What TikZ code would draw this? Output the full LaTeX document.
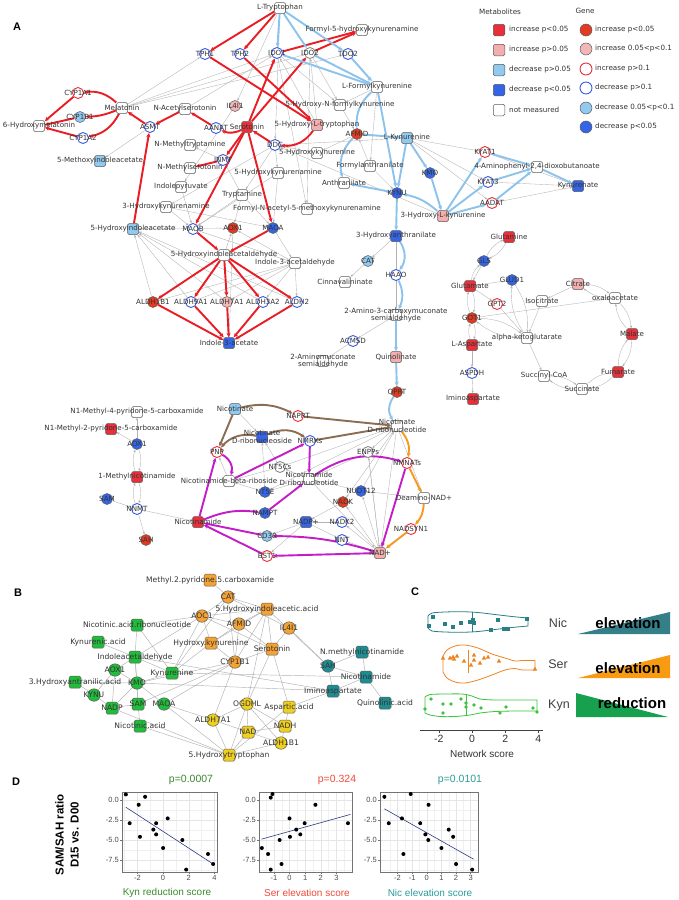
\documentclass[tikz,border=0pt]{standalone}
\usepackage{fontspec}
\setmainfont{DejaVu Sans}
\newfontfamily\lsans{Liberation Sans}
\usetikzlibrary{arrows.meta}
\pgfdeclarelayer{bg}
\pgfsetlayers{bg,main}
\definecolor{txt}{HTML}{333333}
\definecolor{bord}{HTML}{5A5A5A}
\definecolor{mRed}{HTML}{E8303A}
\definecolor{mPink}{HTML}{F3AFAF}
\definecolor{mLBlue}{HTML}{92C9EE}
\definecolor{mBlue}{HTML}{3565E6}
\definecolor{gRed}{HTML}{E23B22}
\definecolor{gPink}{HTML}{F2B6B6}
\definecolor{oRed}{HTML}{E8303A}
\definecolor{oBlue}{HTML}{3A5BE0}
\definecolor{eGray}{HTML}{B2B2B2}
\definecolor{eRed}{HTML}{EA1C24}
\definecolor{eBlue}{HTML}{8CC3EC}
\definecolor{eBrown}{HTML}{8C6D52}
\definecolor{eOrange}{HTML}{F59A1E}
\definecolor{eMag}{HTML}{C41DC8}
\definecolor{bGreen}{HTML}{22BC3C}
\definecolor{bOrange}{HTML}{F4A234}
\definecolor{bYellow}{HTML}{F0D01E}
\definecolor{bTeal}{HTML}{1E8C90}
\definecolor{cTeal}{HTML}{2A7E86}
\definecolor{cOrange}{HTML}{EE8420}
\definecolor{cGreen}{HTML}{3CC43C}
\definecolor{tTeal}{HTML}{357F88}
\definecolor{tOrange}{HTML}{F89B12}
\definecolor{tGreen}{HTML}{17A04E}
\definecolor{dGreen}{HTML}{3B8A2E}
\definecolor{dRed}{HTML}{F04A3A}
\definecolor{dTeal}{HTML}{2C9C9A}
\definecolor{dLine}{HTML}{2B3A80}
\tikzset{
 lab/.style={inner sep=0pt,text=txt,align=center,font=\fontsize{7.1}{7.9}\selectfont},
 mbox/.style={rectangle,rounded corners=1.6pt,draw=bord,line width=0.5pt,fill=white,minimum size=11pt,inner sep=0pt},
 gcirc/.style={circle,draw=bord,line width=0.5pt,fill=white,minimum size=11pt,inner sep=0pt},
 fR/.style={fill=mRed}, fP/.style={fill=mPink}, fL/.style={fill=mLBlue}, fB/.style={fill=mBlue},
 cR/.style={fill=gRed}, cP/.style={fill=gPink}, cL/.style={fill=mLBlue}, cB/.style={fill=mBlue},
 oR/.style={draw=oRed,line width=0.9pt}, oB/.style={draw=oBlue,line width=0.9pt}, oG/.style={draw=gray,line width=0.8pt},
 grayE/.style={draw=eGray,line width=0.35pt,-{Stealth[length=2.8pt,width=2.2pt]}},
 thickE/.style={line width=1.9pt,-{Stealth[length=4.4pt,width=4pt]}},
 redE/.style={thickE,draw=eRed},
 bluE/.style={thickE,draw=eBlue},
 brnE/.style={thickE,draw=eBrown},
 orgE/.style={thickE,draw=eOrange},
 magE/.style={thickE,draw=eMag},
 blab/.style={inner sep=0pt,text=txt,font=\fontsize{7.6}{8}\selectfont},
 bbox/.style={rectangle,rounded corners=1.6pt,draw=bord,line width=0.5pt,minimum size=12pt,inner sep=0pt},
 bcirc/.style={circle,draw=bord,line width=0.5pt,minimum size=12.5pt,inner sep=0pt},
 bE/.style={draw=eGray,line width=0.45pt},
 legt/.style={inner sep=0pt,text=txt,anchor=west,font=\fontsize{7.2}{8}\selectfont},
 panl/.style={inner sep=0pt,font=\lsans\bfseries\fontsize{11}{12}\selectfont},
 ctk/.style={inner sep=0pt,text=txt,font=\lsans\fontsize{11}{12}\selectfont},
 dtk/.style={inner sep=0pt,text=black!70,font=\lsans\fontsize{7.5}{8}\selectfont},
 dgmaj/.style={draw=black!10,line width=0.45pt},
 dgmin/.style={draw=black!6,line width=0.3pt},
 dbox/.style={draw=black!55,line width=0.5pt},
}
\newcommand{\MM}[5]{\node[mbox,#4] (#1) at (#2,#3) {}; \node[lab] (#1-t) at (#2,#3) {#5};}
\newcommand{\GG}[5]{\node[gcirc,#4] (#1) at (#2,#3) {}; \node[lab] (#1-t) at (#2,#3) {#5};}
\newcommand{\BM}[5]{\node[bbox,fill=#4] (#1) at (#2,#3) {}; \node[blab] (#1-t) at (#2,#3) {#5};}
\newcommand{\BG}[5]{\node[bcirc,fill=#4] (#1) at (#2,#3) {}; \node[blab] (#1-t) at (#2,#3) {#5};}
\begin{document}
\begin{tikzpicture}[x=1pt,y=-1pt]
\begin{pgfonlayer}{bg}
\fill[white] (0,0) rectangle (678,900);
\end{pgfonlayer}
\useasboundingbox (0,0) rectangle (678,900);
% ---------------- panel labels
\node[panl] (pA) at (17,27) {A};
\node[panl] (pB) at (18,593) {B};
\node[panl] (pC) at (415,592) {C};
\node[panl] (pD) at (16,782) {D};
% ---------------- A metabolites
\MM{trp}{280}{8}{}{L-Tryptophan}
\MM{fhk}{362}{30}{}{Formyl-5-hydroxykynurenamine}
\MM{lfk}{377}{87}{}{L-Formylkynurenine}
\MM{hnfk}{340}{105}{}{5-Hydroxy-N-formylkynurenine}
\MM{htp}{317}{125}{fP}{5-Hydroxy-L-tryptophan}
\MM{ser}{247}{127}{fR}{Serotonin}
\MM{mel}{122}{108}{}{Melatonin}
\MM{nas}{185}{109}{}{N-Acetylserotonin}
\MM{hmel}{39}{126}{}{6-Hydroxymelatonin}
\MM{mia}{100}{161}{fL}{5-Methoxyindoleacetate}
\MM{nmt}{190}{145}{}{N-Methyltryptamine}
\MM{nms}{190}{168}{}{N-Methylserotonin}
\MM{ipy}{181}{187}{}{Indolepyruvate}
\MM{hkna}{166}{207}{}{3-Hydroxykynurenamine}
\MM{lkyn}{407}{138}{fL}{L-Kynurenine}
\MM{hk}{317}{153}{}{5-Hydroxykynurenine}
\MM{fant}{370}{166}{}{Formylanthranilate}
\MM{ant}{344}{183}{}{Anthranilate}
\MM{hkn}{278}{173}{}{5-Hydroxykynurenamine}
\MM{trya}{242}{195}{}{Tryptamine}
\MM{fnak}{307}{209}{}{Formyl-N-acetyl-5-methoxykynurenamine}
\MM{hlk}{443}{216}{fP}{3-Hydroxy-L-kynurenine}
\MM{apd}{537}{167}{}{4-Aminophenyl-2,4-dioxobutanoate}
\MM{kyna}{578}{186}{fB}{Kynurenate}
\MM{hiaa}{133}{229}{fL}{5-Hydroxyindoleacetate}
\MM{hial}{224}{255}{}{5-Hydroxyindoleacetaldehyde}
\MM{ial}{295}{263}{}{Indole-3-acetaldehyde}
\MM{iaa}{229}{343}{fB}{Indole-3-acetate}
\MM{haa}{396}{236}{fB}{3-Hydroxyanthranilate}
\MM{cinn}{345}{282}{}{Cinnavalininate}
\MM{acms}{396}{315}{}{2-Amino-3-carboxymuconate\\semialdehyde}
\MM{ams}{323}{361}{}{2-Aminomuconate\\semialdehyde}
\MM{quin}{396}{357}{fP}{Quinolinate}
\MM{gln}{509}{237}{fR}{Glutamine}
\MM{glu}{470}{286}{fR}{Glutamate}
\MM{cit}{578}{284}{fP}{Citrate}
\MM{icit}{542}{301}{}{Isocitrate}
\MM{oaa}{615}{298}{}{oxaloacetate}
\MM{akg}{527}{338}{}{alpha-ketoglutarate}
\MM{mal}{632}{334}{fR}{Malate}
\MM{asp}{472}{345}{fR}{L-Aspartate}
\MM{scoa}{544}{376}{}{Succinyl-CoA}
\MM{fum}{618}{372}{fR}{Fumarate}
\MM{suc}{582}{389}{}{Succinate}
\MM{imas}{473}{399}{fR}{Iminoaspartate}
\MM{nmpf}{137}{412}{}{N1-Methyl-4-pyridone-5-carboxamide}
\MM{nmpt}{111}{429}{fR}{N1-Methyl-2-pyridone-5-carboxamide}
\MM{mna}{137}{477}{fR}{1-Methylnicotinamide}
\MM{na}{235}{409}{fL}{Nicotinate}
\MM{namn}{397}{426}{}{Nicotinate\\D-ribonucleotide}
\MM{nar}{262}{437}{fB}{Nicotinate\\D-ribonucleoside}
\MM{nr}{229}{481}{}{Nicotinamide-beta-riboside}
\MM{nmn}{309}{479}{}{Nicotinamide\\D-ribonucleotide}
\MM{nam}{198}{522}{fR}{Nicotinamide}
\MM{dnad}{424}{498}{}{Deamino-NAD+}
\MM{nadp}{306}{522}{fB}{NADP+}
\MM{nad}{380}{553}{fP}{NAD+}
% ---------------- A genes
\GG{tphA}{205}{54}{oB}{TPH1}
\GG{tphB}{240}{54}{oB}{TPH2}
\GG{idoA}{277}{53}{oB}{IDO1}
\GG{idoB}{310}{53}{oG}{IDO2}
\GG{tdo}{348}{54}{oB}{TDO2}
\GG{cypA}{78}{93}{oR}{CYP1A1}
\GG{cypB}{80}{117}{cL}{CYP1B1}
\GG{cypC}{83}{138}{oB}{CYP1A2}
\GG{asmt}{150}{127}{oB}{ASMT}
\GG{aanat}{216}{128}{oB}{AANAT}
\GG{ilf}{235}{106}{cP}{IL4I1}
\GG{inmt}{223}{160}{oB}{INMT}
\GG{afmid}{357}{134}{cR}{AFMID}
\GG{ddc}{275}{145}{oB}{DDC}
\GG{kmo}{430}{173}{cB}{KMO}
\GG{kynu}{397}{193}{cB}{KYNU}
\GG{kyatA}{485}{152}{oR}{KYAT1}
\GG{kyatB}{488}{182}{oB}{KYAT3}
\GG{aadat}{492}{203}{oR}{AADAT}
\GG{maob}{193}{229}{oB}{MAOB}
\GG{aoxA}{233}{228}{cR}{AOX1}
\GG{maoa}{273}{228}{cB}{MAOA}
\GG{alA}{153}{302}{cR}{ALDH1B1}
\GG{alB}{191}{302}{oB}{ALDH9A1}
\GG{alC}{227}{302}{cP}{ALDH7A1}
\GG{alD}{263}{302}{oB}{ALDH3A2}
\GG{alE}{297}{302}{oB}{ALDH2}
\GG{cat}{368}{261}{cL}{CAT}
\GG{haao}{396}{275}{oB}{HAAO}
\GG{acmsd}{353}{341}{oB}{ACMSD}
\GG{qprt}{397}{392}{cR}{QPRT}
\GG{gls}{484}{261}{cB}{GLS}
\GG{glud}{512}{280}{cB}{GLUD1}
\GG{gpt}{497}{304}{oR}{GPT2}
\GG{got}{472}{318}{cR}{GOT1}
\GG{aspdh}{472}{373}{oB}{ASPDH}
\GG{aoxB}{137}{444}{cB}{AOX1}
\GG{sam}{107}{499}{cB}{SAM}
\GG{nnmt}{137}{509}{oB}{NNMT}
\GG{sah}{146}{540}{cR}{SAH}
\GG{pnp}{217}{452}{oR}{PNP}
\GG{naprt}{298}{416}{oR}{NAPRT}
\GG{nmrk}{310}{441}{oB}{NMRKs}
\GG{enpp}{368}{452}{oG}{ENPPs}
\GG{ntc}{280}{467}{oG}{NT5Cs}
\GG{nmnat}{407}{463}{oR}{NMNATs}
\GG{nte}{265}{492}{cB}{NT5E}
\GG{nudt}{361}{491}{cB}{NUDT12}
\GG{nampt}{265}{513}{cB}{NAMPT}
\GG{nadk}{343}{502}{cR}{NADK}
\GG{nadkB}{342}{522}{oB}{NADK2}
\GG{nadsyn}{411}{529}{oR}{NADSYN1}
\GG{cd}{267}{536}{cL}{CD38}
\GG{nnt}{342}{540}{oB}{NNT}
\GG{bst}{267}{556}{oR}{BST1}
% ---------------- A edges
\begin{pgfonlayer}{bg}
\foreach \a/\b in {trp/ilf, ilf/ipy, trp/ddc, ddc/trya, htp/idoA, htp/idoB, idoA/hnfk, idoB/hnfk, hnfk/afmid, afmid/hk, hk/ddc, ddc/hkn,
 mel/idoA, mel/idoB, mel/tdo, mel/tphA, nas/idoA, idoA/fnak, idoB/fnak, asmt/mia, trya/inmt, inmt/nmt, trya/maob, trya/maoa, maob/ial, maoa/ial,
 ial/alA, ial/alB, ial/alC, ial/alD, ial/alE, ial/aoxA, aoxA/iaa, hial/aoxA, aoxA/hiaa, alA/hiaa, alB/hiaa, alC/hiaa, alD/hiaa, alE/hiaa,
 hlk/ddc, ddc/hkna, lkyn/ddc, hkna/maob, hkna/maoa, hkn/maob, hkn/maoa, trya/aoxA, ipy/maob,
 lkyn/kyatA, lkyn/kyatB, lkyn/aadat, kyatA/kyna, kyatB/kyna, aadat/kyna, fant/afmid, lfk/fant, fant/kynu, haa/cat, cat/cinn, acms/acmsd, acmsd/ams,
 haa/acms, lfk/hnfk, kmo/lkyn,
 glu/gpt, gpt/akg, got/oaa, asp/aspdh, aspdh/imas, cit/icit, icit/akg, akg/scoa, glud/glu, gls/glu,
 aoxB/nmpt, aoxB/nmpf, nam/nnmt, sam/nnmt, nnmt/sah,
 namn/enpp, nad/enpp, enpp/nmn, namn/ntc, ntc/nar, nmn/ntc, ntc/nr, namn/nte, nte/nar, nmn/nte, nte/nr, nad/nudt, nudt/nmn, dnad/nudt, nudt/namn,
 nad/nadk, nadk/nadp, nad/nadkB, nadkB/nadp, nadp/nnt, nnt/nad, nadp/cd, nadp/bst, namn/dnad, nr/pnp, na/nar, namn/nad, namn/nadk, enpp/nad, nmn/nad}
 \draw[grayE] (\a) -- (\b);
\foreach \a/\b in {gln/gls, gls/gln, glu/got, got/glu, got/asp, asp/got, fum/mal, mal/fum, mal/oaa, oaa/mal, suc/fum, fum/suc, scoa/suc, suc/scoa,
 akg/glud, glud/akg, akg/got, got/akg, cit/oaa, oaa/cit, mna/aoxB, aoxB/mna, nnmt/mna, mna/nnmt, glu/gls}
 \draw[grayE] (\a) to[bend left=18] (\b);
% red
\foreach \a/\b in {trp/tphA, trp/tphB, tphA/htp, tphB/htp, ddc/ser, aanat/nas, nas/asmt, asmt/mel, cypA/hmel, cypB/hmel, cypC/hmel,
 ser/inmt, inmt/nms, ser/idoA, ser/idoB, idoA/fhk, idoB/fhk, ser/maob, ser/maoa, maob/hial, maoa/hial,
 hial/alA, hial/alB, hial/alC, hial/alD, hial/alE, alA/iaa, alB/iaa, alC/iaa, alD/iaa, alE/iaa, hiaa/asmt}
 \draw[redE] (\a) -- (\b);
\draw[redE] (htp) to[bend left=30] (ddc);
\draw[redE] (ser) to[bend left=25] (aanat);
\draw[redE] (mel) to[bend right=25] (cypA);
\draw[redE] (mel) to[bend left=10] (cypB);
\draw[redE] (mel) to[bend left=25] (cypC);
% blue
\foreach \a/\b in {trp/idoA, trp/idoB, trp/tdo, idoA/lfk, idoB/lfk, tdo/lfk, afmid/lkyn, lfk/kynu, lkyn/kmo, kmo/hlk, lkyn/kynu, kynu/ant,
 kynu/haa, hlk/kyatA, hlk/kyatB, hlk/aadat, kyatA/apd, kyatB/apd, aadat/apd, apd/kyna, acms/quin, quin/qprt}
 \draw[bluE] (\a) -- (\b);
\draw[bluE] (lfk) to[bend right=25] (afmid);
\draw[bluE] (afmid) to[bend right=30] (ant);
\draw[bluE] (hlk) to[bend right=15] (kynu);
\draw[bluE] (haa) to[bend left=35] (haao);
\draw[bluE] (haao) to[bend left=25] (acms);
\draw[bluE] (qprt) to[bend right=35] (namn);
% brown
\draw[brnE] (na) to[bend left=20] (naprt);
\draw[brnE] (naprt) -- (namn);
\draw[brnE] (na) -- (pnp);
\draw[brnE] (nar) to[bend right=30] (pnp);
\draw[brnE] (nar) to[bend left=30] (nmrk);
\draw[brnE] (nmrk) -- (namn);
% orange
\draw[orgE] (namn) to[bend left=25] (nmnat);
\draw[orgE] (nmnat) -- (dnad);
\draw[orgE] (dnad) to[bend left=20] (nadsyn);
\draw[orgE] (nadsyn) -- (nad);
% magenta
\draw[magE] (nam) -- (pnp);
\draw[magE] (pnp) to[bend left=40] (nr);
\draw[magE] (nr) -- (nmrk);
\draw[magE] (nmrk) -- (nmn);
\draw[magE] (nam) to[bend left=15] (nampt);
\draw[magE] (nampt) -- (nmn);
\draw[magE] (nmn) to[bend left=25] (nmnat);
\draw[magE] (nmnat) -- (nad);
\draw[magE] (nad) -- (bst);
\draw[magE] (nad) to[bend right=8] (cd);
\draw[magE] (bst) -- (nam);
\draw[magE] (cd) -- (nam);
\end{pgfonlayer}
% ---------------- legend
\node[inner sep=0pt,text=txt,font=\fontsize{7.2}{8}\selectfont] (legM) at (500,12) {Metabolites};
\node[inner sep=0pt,text=txt,font=\fontsize{7.2}{8}\selectfont] (legG) at (585,11) {Gene};
\foreach \s/\t/\yy [count=\i] in {fR/increase p<0.05/30, fP/increase p>0.05/50, fL/decrease p>0.05/70, fB/decrease p<0.05/90, {}/not measured/110}{
 \node[mbox,\s,minimum size=11.5pt] (lm\i) at (499,\yy) {};
 \node[legt] (lm\i-t) at (509,\yy) {\t};}
\foreach \s/\t/\yy [count=\i] in {cR/increase p<0.05/30, cP/increase 0.05<p<0.1/49, oR/increase p>0.1/69, oB/decrease p>0.1/88, cL/decrease 0.05<p<0.1/108, cB/decrease p<0.05/127}{
 \node[gcirc,\s,minimum size=12pt] (lg\i) at (586,\yy) {};
 \node[legt] (lg\i-t) at (595,\yy) {\t};}
% ---------------- panel B
\BM{bA}{210}{580}{bOrange}{Methyl.2.pyridone.5.carboxamide}
\BG{bB}{228}{597}{bOrange}{CAT}
\BG{bC}{202}{616}{bOrange}{AOC1}
\BM{bD}{267}{609}{bOrange}{5.Hydroxyindoleacetic.acid}
\BG{bE}{239}{624}{bOrange}{AFMID}
\BG{bF}{289}{628}{bOrange}{IL4I1}
\BM{bG}{137}{625}{bGreen}{Nicotinic.acid.ribonucleotide}
\BM{bH}{98}{642}{bGreen}{Kynurenic.acid}
\BM{bI}{211}{643}{bOrange}{Hydroxy.kynurenine}
\BM{bJ}{272}{649}{bOrange}{Serotonin}
\BM{bK}{135}{657}{bGreen}{Indoleacetaldehyde}
\BG{bL}{235}{662}{bOrange}{CYP1B1}
\BG{bM}{115}{670}{bGreen}{AOX1}
\BM{bN}{172}{673}{bGreen}{Kynurenine}
\BM{bO}{362}{652}{bTeal}{N.methylnicotinamide}
\BG{bP}{328}{666}{bTeal}{SAH}
\BM{bQ}{366}{677}{bTeal}{Nicotinamide}
\BM{bR}{333}{691}{bTeal}{Iminoaspartate}
\BM{bS}{385}{703}{bTeal}{Quinolinic.acid}
\BM{bT}{75}{682}{bGreen}{3.Hydroxyantranilic.acid}
\BG{bU}{137}{683}{bGreen}{KMO}
\BG{bV}{94}{695}{bGreen}{KYNU}
\BM{bW}{138}{704}{bGreen}{SAM}
\BG{bX}{164}{704}{bGreen}{MAOA}
\BM{bY}{112}{708}{bGreen}{NADP}
\BM{bZ}{140}{726}{bGreen}{Nicotinic.acid}
\BG{ba}{247}{704}{bYellow}{OGDHL}
\BM{bb}{289}{707}{bYellow}{Aspartic.acid}
\BG{bc}{213}{720}{bYellow}{ALDH7A1}
\BM{bd}{285}{726}{bYellow}{NADH}
\BM{be}{248}{732}{bYellow}{NAD}
\BG{bf}{281}{743}{bYellow}{ALDH1B1}
\BM{bg}{229}{755}{bYellow}{5.Hydroxytryptophan}
\begin{pgfonlayer}{bg}
\foreach \a/\b in {bA/bB, bB/bC, bB/bD, bB/bF, bB/bN, bB/bL, bC/bG, bC/bI, bC/bK, bC/bN, bC/bE, bC/bJ, bC/bD, bD/bI, bD/bL, bD/bE, bD/bJ, bD/ba, bD/bP,
 bE/bL, bE/bJ, bE/bI, bF/bJ, bF/bP, bI/bN, bI/bL, bJ/bL, bJ/bb, bJ/ba, bL/bc, bL/bW, bL/bX, bL/bU, bK/bG, bK/bH, bK/bM, bK/bU, bK/bN, bK/bW, bK/bR,
 bM/bU, bM/bY, bM/bV, bT/bU, bT/bV, bU/bN, bU/bW, bU/bY, bU/bX, bU/bR, bN/bQ, bV/bY, bW/bY, bW/bZ, bX/bc, bX/bg, bY/bg, bZ/bg,
 ba/bc, ba/be, ba/bd, ba/bf, ba/bg, bb/bd, bb/bg, bc/be, bc/bg, bd/be, bd/bf, be/bf, be/bg, bf/bg, bP/bO, bP/bQ, bP/bR, bQ/bR, bQ/bS, bQ/bO, bR/bb, bG/bN}
 \draw[bE] (\a) -- (\b);
\end{pgfonlayer}
% ---------------- panel C
\draw[cTeal,line width=0.8pt] plot[smooth] coordinates {(428,616) (432,613) (445,612) (462,611.7) (478,612.5) (495,614.5) (512,616.5) (528,618)}
 -- plot[smooth] coordinates {(528,626) (512,627.5) (495,629.5) (478,631.5) (462,632.3) (445,632) (432,631) (428,628)} -- cycle;
\draw[cTeal,line width=0.8pt] (472,611.8) -- (472,632.2);
\foreach \x/\y in {433/617,429/626,445/624,453/627,461/623,470/622,473/620,474/623,491/630,498/620,504/629,508/629,527/619}
 \fill[cTeal] (\x-1.8,\y-1.8) rectangle (\x+1.8,\y+1.8);
\draw[cOrange,line width=0.8pt] plot[smooth] coordinates {(443,656) (447,650) (455,646) (465,645) (478,648) (492,654) (505,658) (515,661) (522,660.5) (535,660.5)}
 -- plot[smooth] coordinates {(535,670) (522,670) (515,668.5) (505,670) (492,675) (478,680) (465,683) (455,682) (447,678) (443,672)} -- cycle;
\draw[cOrange,line width=0.8pt] (468,650) -- (468,673);
\foreach \x/\y in {443/658,450/658,453/657,454/659,457/656,464/661,471/665,474/655,474/660,480/663,484/658,488/657,499/661,535/669}
 \fill[cOrange] (\x,\y-2.4) -- (\x+2.2,\y+1.5) -- (\x-2.2,\y+1.5) -- cycle;
\draw[cGreen,line width=0.8pt] plot[smooth] coordinates {(425,697) (430,694.5) (445,694) (462,694) (472,696) (480,699) (495,700) (515,700) (537,700)}
 -- plot[smooth] coordinates {(537,711) (515,711) (495,711.5) (480,713) (470,715) (455,716.5) (440,716.5) (430,715) (425,713)} -- cycle;
\draw[cGreen,line width=0.8pt] (466,694) -- (466,716);
\foreach \x/\y in {425/709,431/699,443/704,443/713,451/704,461/699,466/703,466/707,474/705,481/708,500/713,506/707,533/708,537/712}
 \fill[cGreen] (\x,\y) circle (1.9pt);
\draw[black!75,line width=0.6pt] (420,730) -- (543,730);
\foreach \v/\t [count=\i] in {-2/-2,0/0,2/2,4/4}{
 \draw[black!75,line width=0.6pt] (472+16.6*\v,730) -- (472+16.6*\v,733);
 \node[ctk,anchor=north,font=\lsans\fontsize{10.5}{11}\selectfont] (cx\i) at (472+16.6*\v,735) {\t};}
\node[ctk,font=\lsans\fontsize{10}{11}\selectfont] (cxl) at (482,754) {Network score};
\node[ctk,font=\lsans\fontsize{12.5}{13}\selectfont,text=black!75] (cnic) at (558,623) {Nic};
\node[ctk,font=\lsans\fontsize{12.5}{13}\selectfont,text=black!75] (cser) at (558,664) {Ser};
\node[ctk,font=\lsans\fontsize{12.5}{13}\selectfont,text=black!75] (ckyn) at (559,705) {Kyn};
\fill[tTeal] (578,634) -- (670,612) -- (670,634) -- cycle;
\fill[tOrange] (578,678) -- (670,655) -- (670,678) -- cycle;
\fill[tGreen] (576,693) -- (576,717) -- (668,717) -- cycle;
\node[inner sep=0pt,font=\lsans\bfseries\fontsize{15}{16}\selectfont] (tnic) at (628,623) {elevation};
\node[inner sep=0pt,font=\lsans\bfseries\fontsize{15}{16}\selectfont] (tser) at (628,668) {elevation};
\node[inner sep=0pt,font=\lsans\bfseries\fontsize{15}{16}\selectfont] (tkyn) at (632,703) {reduction};
% ---------------- panel D
\node[rotate=90,align=center,inner sep=0pt,font=\lsans\bfseries\fontsize{11.5}{15}\selectfont] (dyl) at (67,835) {SAM/SAH ratio\\D15 vs. D00};
\node[inner sep=0pt,text=dGreen,font=\lsans\fontsize{10.5}{11}\selectfont] (dp1) at (191,780) {p=0.0007};
\node[inner sep=0pt,text=dRed,font=\lsans\fontsize{10.5}{11}\selectfont] (dp2) at (337,780) {p=0.324};
\node[inner sep=0pt,text=dTeal,font=\lsans\fontsize{10.5}{11}\selectfont] (dp3) at (460,780) {p=0.0101};
\node[inner sep=0pt,text=dGreen,font=\lsans\fontsize{10}{11}\selectfont] (dx1) at (167,893) {Kyn reduction score};
\node[inner sep=0pt,text=dRed,font=\lsans\fontsize{10}{11}\selectfont] (dx2) at (307,893) {Ser elevation score};
\node[inner sep=0pt,text=dTeal,font=\lsans\fontsize{10}{11}\selectfont] (dx3) at (430,893) {Nic elevation score};
% plot 1
\begin{scope}[shift={(163.08,800)},x=12.838pt,y=8pt]
 \foreach \g in {-8.75,-6.25,-3.75,-1.25} \draw[dgmin] (-3.2,\g) -- (4.2,\g);
 \foreach \g in {-3,-1,1,3} \draw[dgmin] (\g,-9) -- (\g,1);
 \foreach \g in {-7.5,-5,-2.5,0} \draw[dgmaj] (-3.2,\g) -- (4.2,\g);
 \foreach \g in {-2,0,2,4} \draw[dgmaj] (\g,-9) -- (\g,1);
 \draw[dbox] (-3.2,-9) rectangle (4.2,1);
 \foreach \g/\t [count=\i] in {0/0.0,-2.5/-2.5,-5/-5.0,-7.5/-7.5}{
  \draw[black!55,line width=0.4pt] (-3.2,\g) -- ++(-2pt,0);
  \node[dtk,anchor=east] (d1y\i) at ([xshift=-3pt]-3.2,\g) {\t};}
 \foreach \g [count=\i] in {-2,0,2,4}{
  \draw[black!55,line width=0.4pt] (\g,-9) -- ++(0,-2pt);
  \node[dtk,anchor=north] (d1x\i) at ([yshift=-3pt]\g,-9) {\g};}
 \draw[dLine,line width=0.6pt] (-2.9,-0.9) -- (3.9,-8.0);
 \foreach \x/\y in {-2.9/0.7,-2.6/-2.9,-1.9/-0.6,-1.4/0.4,-1.8/-4.6,-0.76/-3.7,-0.54/-2.9,-0.54/-4.3,0.0/-6.0,0.36/-2.3,1.5/-5.0,1.8/-8.7,3.5/-6.75,3.9/-8.0}
  \fill[black] (\x,\y) circle (2pt);
\end{scope}
% plot 2
\begin{scope}[shift={(289.5,800)},x=15.63pt,y=8pt]
 \foreach \g in {-8.75,-6.25,-3.75,-1.25} \draw[dgmin] (-1.95,\g) -- (4.0,\g);
 \foreach \g in {-1.5,-0.5,0.5,1.5,2.5,3.5} \draw[dgmin] (\g,-9) -- (\g,1);
 \foreach \g in {-7.5,-5,-2.5,0} \draw[dgmaj] (-1.95,\g) -- (4.0,\g);
 \foreach \g in {-1,0,1,2,3} \draw[dgmaj] (\g,-9) -- (\g,1);
 \draw[dbox] (-1.95,-9) rectangle (4.0,1);
 \foreach \g/\t [count=\i] in {0/0.0,-2.5/-2.5,-5/-5.0,-7.5/-7.5}{
  \draw[black!55,line width=0.4pt] (-1.95,\g) -- ++(-2pt,0);
  \node[dtk,anchor=east] (d2y\i) at ([xshift=-3pt]-1.95,\g) {\t};}
 \foreach \g [count=\i] in {-1,0,1,2,3}{
  \draw[black!55,line width=0.4pt] (\g,-9) -- ++(0,-2pt);
  \node[dtk,anchor=north] (d2x\i) at ([yshift=-3pt]\g,-9) {\g};}
 \draw[dLine,line width=0.6pt] (-1.8,-4.9) -- (3.9,-1.8);
 \foreach \x/\y in {-1.77/-6.0,-1.37/-6.75,-1.2/0.3,-1.09/0.75,-1.2/-8.7,-0.63/-5.0,-0.51/-8.0,0/-2.3,0.03/-4.6,0.43/-3.7,0.69/-4.3,0.97/-2.9,1.66/-0.6,3.74/-2.9}
  \fill[black] (\x,\y) circle (2pt);
\end{scope}
% plot 3
\begin{scope}[shift={(426.8,800)},x=14.63pt,y=8pt]
 \foreach \g in {-8.75,-6.25,-3.75,-1.25} \draw[dgmin] (-3.2,\g) -- (3.5,\g);
 \foreach \g in {-2.5,-1.5,-0.5,0.5,1.5,2.5} \draw[dgmin] (\g,-9) -- (\g,1);
 \foreach \g in {-7.5,-5,-2.5,0} \draw[dgmaj] (-3.2,\g) -- (3.5,\g);
 \foreach \g in {-2,-1,0,1,2,3} \draw[dgmaj] (\g,-9) -- (\g,1);
 \draw[dbox] (-3.2,-9) rectangle (3.5,1);
 \foreach \g/\t [count=\i] in {0/0.0,-2.5/-2.5,-5/-5.0,-7.5/-7.5}{
  \draw[black!55,line width=0.4pt] (-3.2,\g) -- ++(-2pt,0);
  \node[dtk,anchor=east] (d3y\i) at ([xshift=-3pt]-3.2,\g) {\t};}
 \foreach \g [count=\i] in {-2,-1,0,1,2,3}{
  \draw[black!55,line width=0.4pt] (\g,-9) -- ++(0,-2pt);
  \node[dtk,anchor=north] (d3x\i) at ([yshift=-3pt]\g,-9) {\g};}
 \draw[dLine,line width=0.6pt] (-2.9,-1.1) -- (3.2,-7.4);
 \foreach \x/\y in {-2.9/0.4,-2.6/-2.9,-1.6/-6.75,-1.7/-2.3,-1.1/0.75,-0.45/-2.9,-0.1/-4.3,0.12/-0.6,0.1/-5.0,1.0/-6.0,1.5/-3.7,1.8/-4.6,2.0/-8.0,3.1/-8.7}
  \fill[black] (\x,\y) circle (2pt);
\end{scope}
\end{tikzpicture}
\end{document}
